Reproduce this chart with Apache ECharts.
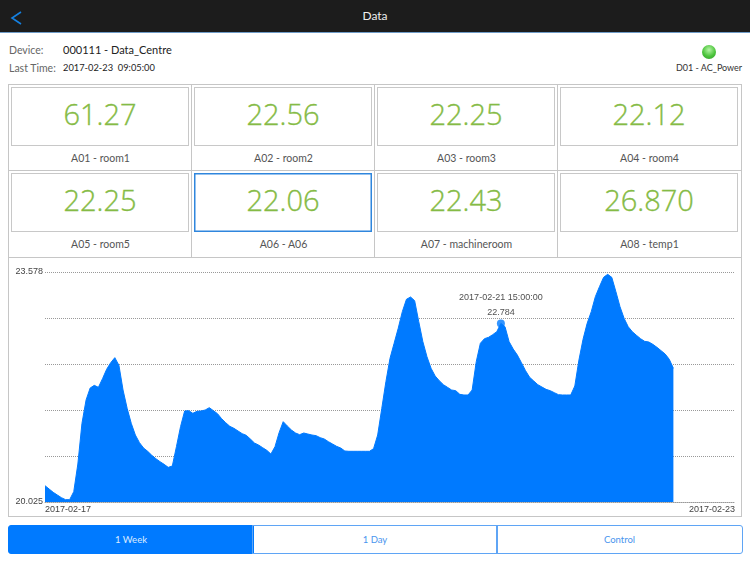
<!DOCTYPE html>
<html>
<head>
<meta charset="utf-8">
<title>Data</title>
<script src="https://cdn.jsdelivr.net/npm/echarts@6/dist/echarts.min.js"></script>
<style>
  html, body { margin: 0; padding: 0; background: #fff; }
  body { position: relative; width: 750px; height: 562px; overflow: hidden; font-family: Lato, "Noto Sans", sans-serif; color: #333; }
  .abs { position: absolute; white-space: nowrap; }
  #head { left: 0; top: 0; width: 750px; height: 32px; background: #1c1c1c; border-bottom: 1px solid #6f9cc8; color: #eee; font-size: 12px; line-height: 32px; text-align: center; }
  #grid { left: 8px; top: 84px; width: 732px; height: 172px; border: 1px solid #c6c6c6; }
  .vline { width: 1px; background: #c6c6c6; top: 84px; height: 173px; }
  .hline { height: 1px; background: #c6c6c6; left: 8px; width: 733px; top: 170px; }
  .box { width: 176px; height: 57px; border: 1px solid #c8c8c8; text-align: center; line-height: 52px; font-family: "Open Sans", sans-serif; font-size: 29px; font-weight: 300; -webkit-text-stroke: 0.35px #85bb45; color: #85bb45; }
  .box.on { border-color: #2f86dd; box-shadow: inset 0 0 0 0.5px #2f86dd; }
  .name { width: 183px; text-align: center; font-size: 10.5px; color: #555; line-height: 14px; }
  #main { left: 8px; top: 257px; width: 732px; height: 259px; border: 1px solid #c6c6c6; border-top: none; }
  .btn { top: 525px; height: 27px; line-height: 27px; border: 1px solid #5fa5f5; text-align: center; font-size: 9.5px; color: #4a95ee; }
</style>
</head>
<body>
<div id="head" class="abs">Data</div>
<svg class="abs" style="left:10px;top:11px" width="14" height="14"><polyline points="11,1 2,7 11,13" fill="none" stroke="#1580e0" stroke-width="1.6"/></svg>

<div class="abs" style="left:9px;top:44px;font-size:10.5px;color:#666">Device:</div>
<div class="abs" style="left:63px;top:43px;font-size:11px;color:#222">000111 - Data_Centre</div>
<div class="abs" style="left:9px;top:62px;font-size:10.5px;color:#666">Last Time:</div>
<div class="abs" style="left:63px;top:62px;font-size:9.3px;color:#222">2017-02-23&nbsp;&nbsp;09:05:00</div>
<div class="abs" style="left:702px;top:45px;width:14px;height:14px;border-radius:7px;background:radial-gradient(circle at 50% 35%,#b5f5a5,#4cc43c 55%,#2f9a2a)"></div>
<div class="abs" style="left:660px;width:98px;top:62px;text-align:center;font-size:9px;color:#333">D01 - AC_Power</div>

<div id="grid" class="abs"></div>
<div id="tiles"></div>

<div id="main" class="abs"></div>

<div class="abs btn" style="left:8px;width:244px;background:#007aff;border-color:#007aff;color:#dcebff;border-radius:3px 0 0 3px">1 Week</div>
<div class="abs btn" style="left:252px;width:244px">1 Day</div>
<div class="abs btn" style="left:496px;width:245px;border-radius:0 3px 3px 0">Control</div>

<script>
var tileValues = ["61.27", "22.56", "22.25", "22.12", "22.25", "22.06", "22.43", "26.870"];
var tileNames = ["A01 - room1", "A02 - room2", "A03 - room3", "A04 - room4", "A05 - room5", "A06 - A06", "A07 - machineroom", "A08 - temp1"];
var selectedTile = 5;

// hourly readings, hour 0 = 2017-02-17 00:00
var hourlyValues = [
  20.277, 20.226, 20.174, 20.133, 20.092, 20.061, 20.061, 20.185, 20.612, 21.240,
  21.601, 21.786, 21.827, 21.796, 21.930, 22.074, 22.177, 22.255, 22.136, 21.755,
  21.472, 21.240, 21.060, 20.942, 20.859, 20.808, 20.746, 20.694, 20.648, 20.607,
  20.560, 20.581, 20.880, 21.189, 21.431, 21.436, 21.395, 21.426, 21.431, 21.446,
  21.482, 21.436, 21.389, 21.312, 21.250, 21.194, 21.163, 21.122, 21.081, 21.055,
  20.998, 20.936, 20.905, 20.864, 20.823, 20.766, 20.880, 21.096, 21.266, 21.199,
  21.137, 21.091, 21.065, 21.091, 21.075, 21.060, 21.050, 21.019, 20.998, 20.957,
  20.921, 20.885, 20.859, 20.813, 20.808, 20.808, 20.808, 20.808, 20.808, 20.808,
  20.849, 21.060, 21.472, 21.884, 22.244, 22.476, 22.708, 22.965, 23.156, 23.192,
  23.135, 22.811, 22.502, 22.270, 22.090, 21.971, 21.899, 21.837, 21.796, 21.755,
  21.745, 21.688, 21.678, 21.678, 21.755, 22.193, 22.476, 22.548, 22.569, 22.610,
  22.656, 22.784, 22.733, 22.502, 22.388, 22.296, 22.177, 22.054, 21.951, 21.894,
  21.837, 21.801, 21.765, 21.745, 21.714, 21.683, 21.678, 21.678, 21.678, 21.817,
  22.218, 22.538, 22.785, 22.965, 23.197, 23.351, 23.495, 23.542, 23.495, 23.274,
  23.042, 22.862, 22.733, 22.656, 22.600, 22.548, 22.507, 22.497, 22.460, 22.414,
  22.363, 22.311, 22.229, 22.090
];
var pickedHour = 111;
var pickedTime = "2017-02-21 15:00:00";
var pickedValue = 22.784;
var xMax = 168;
var xTickValues = [0, 168];
var xTickLabels = ["2017-02-17", "2017-02-23"];
var yMin = 20.025;
var yMax = 23.578;
var yLabelValues = [20.025, 23.578];
var yGridValues = [20.025, 20.736, 21.446, 22.157, 22.867, 23.578];
var axisTitle = "A06 - A06";

// 顶部数值格子
var tilesHtml = "";
for (var i = 0; i < tileValues.length; i++) {
  var col = i % 4, row = Math.floor(i / 4);
  var boxLeft = [11, 194, 377, 560][col];
  var boxTop = [87, 173][row];
  tilesHtml += '<div class="abs box' + (i === selectedTile ? ' on' : '') + '" style="left:' + boxLeft + 'px;top:' + boxTop + 'px">' + tileValues[i] + '</div>';
  tilesHtml += '<div class="abs name" style="left:' + (boxLeft - 2) + 'px;top:' + (boxTop + 64) + 'px">' + tileNames[i] + '</div>';
  if (col > 0 && row === 0) {
    tilesHtml += '<div class="abs vline" style="left:' + (boxLeft - 3) + 'px"></div>';
  }
}
tilesHtml += '<div class="abs hline"></div>';
document.getElementById("tiles").innerHTML = tilesHtml;

var lineData = hourlyValues.map(function (v, h) {
  return [h, v];
});

var chart = echarts.init(document.getElementById("main"));
var option = {
  animation: false,
  textStyle: { fontFamily: "Liberation Sans" },
  grid: { left: 36, right: 6, top: 15, bottom: 14, outerBoundsMode: "none" },
  xAxis: {
    type: "value",
    min: 0,
    max: xMax,
    name: axisTitle,
    nameLocation: "middle",
    nameGap: 3,
    nameTextStyle: { fontSize: 9, color: "#444", verticalAlign: "top" },
    axisLine: { show: true, lineStyle: { color: "#999", type: "dotted", width: 1 } },
    axisTick: { show: false },
    splitLine: { show: false },
    axisLabel: {
      customValues: xTickValues,
      alignMinLabel: "left",
      alignMaxLabel: "right",
      margin: 3,
      fontSize: 9,
      color: "#444",
      formatter: function (v) {
        return xTickLabels[xTickValues.indexOf(v)];
      }
    }
  },
  yAxis: {
    type: "value",
    min: yMin,
    max: yMax,
    axisLine: { show: false },
    axisTick: { show: false, customValues: yGridValues },
    splitLine: { show: true, lineStyle: { color: "#999", type: "dotted", width: 1 } },
    axisLabel: {
      customValues: yLabelValues,
      margin: 2,
      fontSize: 9,
      color: "#444",
      formatter: function (v) { return v.toFixed(3); }
    }
  },
  series: [
    {
      type: "line",
      data: lineData,
      showSymbol: false,
      lineStyle: { color: "#007aff", width: 1 },
      areaStyle: { color: "#007aff", opacity: 1 }
    },
    {
      type: "scatter",
      data: [[pickedHour, pickedValue]],
      symbolSize: 8,
      itemStyle: { color: "#007aff" },
      label: {
        show: true,
        position: "top",
        distance: -1,
        fontSize: 9,
        lineHeight: 15,
        color: "#222",
        formatter: function () { return pickedTime + "\n" + pickedValue; }
      }
    }
  ]
};
chart.setOption(option);
</script>
</body>
</html>
